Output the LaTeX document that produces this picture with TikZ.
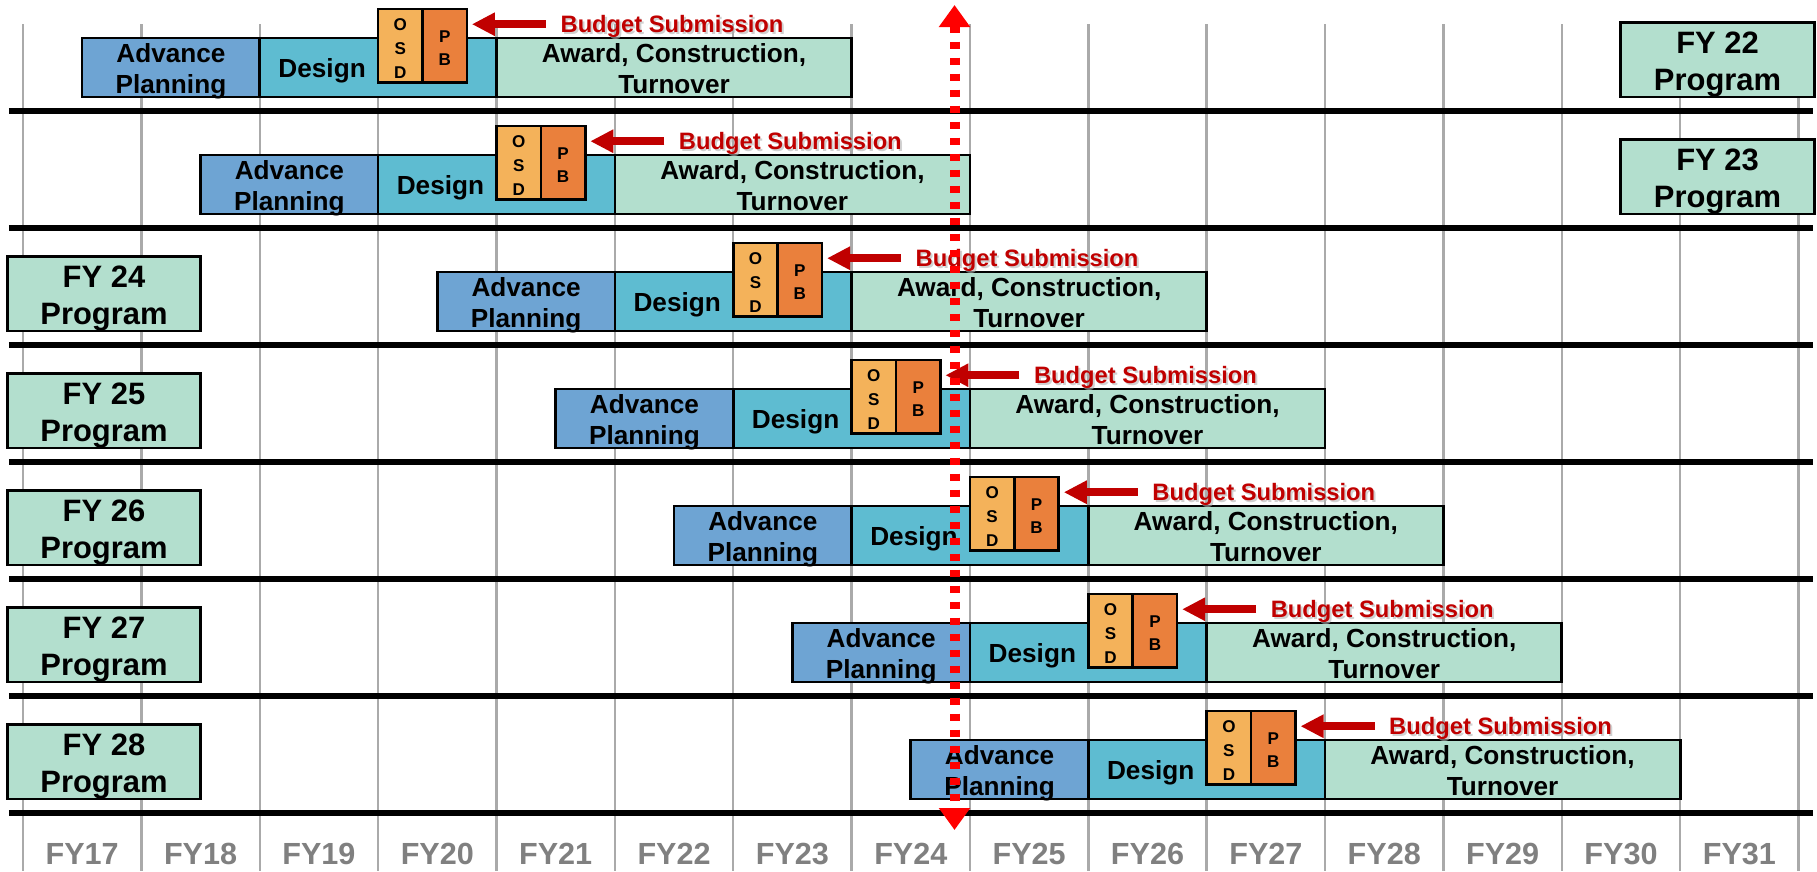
\documentclass[tikz,border=0pt]{standalone}
\usepackage{fontspec}
\setmainfont{Liberation Sans}
\usepackage{tikz}
\usetikzlibrary{arrows.meta, positioning, calc}

\definecolor{planblue}{RGB}{110,164,211}
\definecolor{designteal}{RGB}{94,188,209}
\definecolor{awardmint}{RGB}{179,223,206}
\definecolor{osdorange}{RGB}{244,178,90}
\definecolor{pborange}{RGB}{234,128,60}
\definecolor{budgetred}{RGB}{192,0,0}
\definecolor{gridgray}{RGB}{170,170,170}
\definecolor{fygray}{RGB}{128,128,128}

\begin{document}
\begin{tikzpicture}[
  every node/.style={font=\bfseries},
  bar/.style={draw, line width=0.75pt, outer sep=0pt, inner sep=0pt,
    minimum height=0.59cm, align=center, text height=5.16mm, text depth=0mm,
    font=\fontsize{7.45}{8.8}\selectfont\bfseries},
  bartext/.style={inner sep=0pt, text height=1.9mm, text depth=0mm,
    font=\fontsize{7.45}{8.8}\selectfont\bfseries},
  gate/.style={draw, line width=0.75pt, outer sep=0pt, inner sep=0pt,
    minimum width=0.444cm, minimum height=0.733cm, align=center, text depth=0mm,
    font=\fontsize{4.85}{6.7}\selectfont\bfseries},
  program/.style={draw, line width=0.75pt, fill=awardmint, inner sep=0pt,
    minimum width=1.935cm, minimum height=0.745cm, align=center,
    text height=6.2mm, text depth=0mm,
    font=\fontsize{8.8}{10.7}\selectfont\bfseries},
  budget/.style={text=budgetred, inner sep=0pt,
    font=\fontsize{6.75}{8}\selectfont\bfseries},
  budgetarrow/.style={-{Triangle[length=2.3mm, width=2.2mm]}, line width=0.8mm, budgetred},
  gridline/.style={gridgray, line width=0.7pt},
  rowline/.style={black, line width=1.6pt},
  year/.style={text=fygray, inner sep=0pt, font=\fontsize{8.7}{10}\selectfont\bfseries},
  nowline/.style={{Triangle[length=2.2mm, width=3mm]}-{Triangle[length=2.2mm, width=3mm]},
    red, line width=1mm, dash pattern=on 0.7mm off 0.9mm},
]
\useasboundingbox (0,0) rectangle (18.17,-8.71);

% Fiscal year columns
\foreach \k in {0,...,15}
  \draw[gridline] ({0.23+1.1837*\k},-0.24) -- ({0.23+1.1837*\k},-8.71);
\foreach \yr [count=\k from 0] in {17,...,31}
  \node[year, anchor=base] (fy\yr) at ({0.23+1.1837*(\k+0.5)},-8.64) {FY\yr};

% Row separators
\foreach \i in {0,...,6}
  \draw[rowline] (0.09,{-1.11-1.17*\i}) -- (18.13,{-1.11-1.17*\i});

% One row per program year (\off = start column of advance planning)
\foreach \i/\off in {0/0.5,1/1.5,2/3.5,3/4.5,4/5.5,5/6.5,6/7.5} {
  \node[bar, fill=planblue, minimum width=1.776cm] (adv\i)
    at ({0.23+1.1837*(\off+0.75)},{-0.675-1.17*\i}) {Advance\\Planning};
  \node[bar, fill=designteal, minimum width=2.367cm, right=0pt of adv\i] (des\i) {};
  \node[bartext, xshift=-5.6mm] (dtxt\i) at (des\i) {Design};
  \node[bar, fill=awardmint, minimum width=3.551cm, right=0pt of des\i] (awd\i)
    {Award, Construction,\\Turnover};
  \node[gate, fill=osdorange, text height=6.47mm, anchor=south west] (osd\i)
    at ([yshift=-1.48mm]des\i.center) {O\\S\\D};
  \node[gate, fill=pborange, text height=4.01mm, right=0pt of osd\i] (pb\i) {P\\B};
  \node[budget, text=black!30, opacity=0.6, anchor=base west] (shade\i)
    at ([xshift=9.5mm, yshift=-2.55mm]pb\i.north east) {Budget Submission};
  \node[budget, anchor=base west] (bud\i)
    at ([xshift=9.3mm, yshift=-2.33mm]pb\i.north east) {Budget Submission};
  \draw[budgetarrow] ([xshift=-1.4mm, yshift=0.2mm]bud\i.west)
    -- ([xshift=0.5mm, yshift=0.2mm]pb\i.east |- bud\i.west);
}

% Program boxes
\node[program] (prog22) at (17.175,-0.5975) {FY 22\\Program};
\node[program] (prog23) at (17.175,-1.7675) {FY 23\\Program};
\foreach \i/\fy in {2/24,3/25,4/26,5/27,6/28}
  \node[program] (prog\fy) at (1.04,{-0.5975-1.17*\i}) {FY \fy\\Program};

% Current budget year marker
\coordinate (nowtop) at (9.545,-0.05);
\coordinate (nowbot) at (9.545,-8.30);
\draw[nowline] (nowtop) -- (nowbot);

\end{tikzpicture}
\end{document}
